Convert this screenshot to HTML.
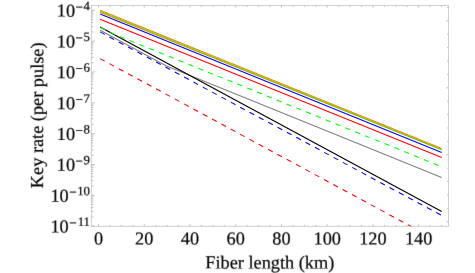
<!DOCTYPE html>
<html><head><meta charset="utf-8"><title>Key rate vs fiber length</title>
<style>html,body{margin:0;padding:0;background:#fff;}body{width:475px;height:273px;position:relative;overflow:hidden;font-family:"Liberation Serif",serif;}</style>
</head><body>
<svg width="475" height="273" viewBox="0 0 475 273" style="position:absolute;left:0;top:0">
<rect x="0" y="0" width="475" height="273" fill="#fff"/>
<defs><clipPath id="c"><rect x="91.4" y="5.5" width="357.1" height="221.54999999999998"/></clipPath><filter id="bl" x="-5%" y="-5%" width="110%" height="110%"><feConvolveMatrix order="3" kernelMatrix="0.01 0.07 0.01 0.07 0.68 0.07 0.01 0.07 0.01" divisor="1" edgeMode="none"/></filter></defs>
<g clip-path="url(#c)">
<path d="M100.1 58.6L441.7 242.96151999999998" stroke="#ff0000" stroke-width="1.05" fill="none" stroke-dasharray="5.3 5.3"/>
<path d="M100.1 31.9L441.7 215.5" stroke="#0000ff" stroke-width="1.05" fill="none" stroke-dasharray="5.3 5.3"/>
<path d="M100.1 30.3L166 65.75L441.7 177.4" stroke="#808080" stroke-width="1.05" fill="none"/>
<path d="M100.1 27.1L441.7 211.5" stroke="#000000" stroke-width="1.1" fill="none"/>
<path d="M100.1 27.1L104 29.2L116 34.95L441.7 166.7" stroke="#00ff00" stroke-width="1.05" fill="none" stroke-dasharray="5.29 5.29" stroke-dashoffset="-0.6"/>
<path d="M100.1 19.15L441.7 157.45" stroke="#ff0000" stroke-width="1.05" fill="none"/>
<path d="M100.1 14.0L441.7 152.4" stroke="#0000ff" stroke-width="1.05" fill="none"/>
<path d="M100.1 12.25L441.7 149.8" stroke="#ff8000" stroke-width="1.1" fill="none"/>
<path d="M100.1 11.25L441.7 149.6" stroke="#00ff00" stroke-width="0.9" fill="none"/>
<path d="M100.1 10.25L441.7 148.5" stroke="#ff8000" stroke-width="1.15" fill="none"/>
</g>
<rect x="91.4" y="5.5" width="357.1" height="220.85" fill="none" stroke="#d0d0d0" stroke-width="1.0"/>
<path d="M98.50 226.35v-2.1M98.50 5.5v2.1M109.94 226.35v-1.3M109.94 5.5v1.3M121.37 226.35v-1.3M121.37 5.5v1.3M132.81 226.35v-1.3M132.81 5.5v1.3M144.24 226.35v-2.1M144.24 5.5v2.1M155.68 226.35v-1.3M155.68 5.5v1.3M167.11 226.35v-1.3M167.11 5.5v1.3M178.55 226.35v-1.3M178.55 5.5v1.3M189.98 226.35v-2.1M189.98 5.5v2.1M201.41 226.35v-1.3M201.41 5.5v1.3M212.85 226.35v-1.3M212.85 5.5v1.3M224.28 226.35v-1.3M224.28 5.5v1.3M235.72 226.35v-2.1M235.72 5.5v2.1M247.16 226.35v-1.3M247.16 5.5v1.3M258.59 226.35v-1.3M258.59 5.5v1.3M270.02 226.35v-1.3M270.02 5.5v1.3M281.46 226.35v-2.1M281.46 5.5v2.1M292.89 226.35v-1.3M292.89 5.5v1.3M304.33 226.35v-1.3M304.33 5.5v1.3M315.76 226.35v-1.3M315.76 5.5v1.3M327.20 226.35v-2.1M327.20 5.5v2.1M338.63 226.35v-1.3M338.63 5.5v1.3M350.07 226.35v-1.3M350.07 5.5v1.3M361.50 226.35v-1.3M361.50 5.5v1.3M372.94 226.35v-2.1M372.94 5.5v2.1M384.38 226.35v-1.3M384.38 5.5v1.3M395.81 226.35v-1.3M395.81 5.5v1.3M407.25 226.35v-1.3M407.25 5.5v1.3M418.68 226.35v-2.1M418.68 5.5v2.1M430.12 226.35v-1.3M430.12 5.5v1.3M441.55 226.35v-1.3M441.55 5.5v1.3M91.4 226.18h3.4M91.4 216.90h2M91.4 211.47h2M91.4 207.61h2M91.4 204.62h2M91.4 202.18h2M91.4 200.12h2M91.4 198.33h2M91.4 196.75h2M91.4 195.34h3.4M91.4 186.06h2M91.4 180.63h2M91.4 176.77h2M91.4 173.78h2M91.4 171.34h2M91.4 169.28h2M91.4 167.49h2M91.4 165.91h2M91.4 164.50h3.4M91.4 155.22h2M91.4 149.79h2M91.4 145.93h2M91.4 142.94h2M91.4 140.50h2M91.4 138.44h2M91.4 136.65h2M91.4 135.07h2M91.4 133.66h3.4M91.4 124.38h2M91.4 118.95h2M91.4 115.09h2M91.4 112.10h2M91.4 109.66h2M91.4 107.60h2M91.4 105.81h2M91.4 104.23h2M91.4 102.82h3.4M91.4 93.54h2M91.4 88.11h2M91.4 84.25h2M91.4 81.26h2M91.4 78.82h2M91.4 76.76h2M91.4 74.97h2M91.4 73.39h2M91.4 71.98h3.4M91.4 62.70h2M91.4 57.27h2M91.4 53.41h2M91.4 50.42h2M91.4 47.98h2M91.4 45.92h2M91.4 44.13h2M91.4 42.55h2M91.4 41.14h3.4M91.4 31.86h2M91.4 26.43h2M91.4 22.57h2M91.4 19.58h2M91.4 17.14h2M91.4 15.08h2M91.4 13.29h2M91.4 11.71h2M91.4 10.30h3.4M448.5 221.78h-2.2M448.5 208.39h-1.4M448.5 194.99h-1.4M448.5 181.60h-1.4M448.5 168.21h-1.4M448.5 154.81h-2.2M448.5 141.42h-1.4M448.5 128.03h-1.4M448.5 114.63h-1.4M448.5 101.24h-1.4M448.5 87.84h-2.2M448.5 74.45h-1.4M448.5 61.06h-1.4M448.5 47.66h-1.4M448.5 34.27h-1.4M448.5 20.88h-2.2M448.5 7.48h-1.4" stroke="#b8b8b8" stroke-width="0.9" fill="none"/>
<g font-family="Liberation Serif, serif" fill="#000" stroke="#000" stroke-width="0.2" filter="url(#bl)" text-rendering="geometricPrecision">
<text x="98.50" y="244.5" transform="rotate(0.08 98.50 244.5)" font-size="18.3" text-anchor="middle">0</text>
<text x="144.24" y="244.5" transform="rotate(0.08 144.24 244.5)" font-size="18.3" text-anchor="middle">20</text>
<text x="189.98" y="244.5" transform="rotate(0.08 189.98 244.5)" font-size="18.3" text-anchor="middle">40</text>
<text x="235.72" y="244.5" transform="rotate(0.08 235.72 244.5)" font-size="18.3" text-anchor="middle">60</text>
<text x="281.46" y="244.5" transform="rotate(0.08 281.46 244.5)" font-size="18.3" text-anchor="middle">80</text>
<text x="327.20" y="244.5" transform="rotate(0.08 327.20 244.5)" font-size="18.3" text-anchor="middle">100</text>
<text x="372.94" y="244.5" transform="rotate(0.08 372.94 244.5)" font-size="18.3" text-anchor="middle">120</text>
<text x="418.68" y="244.5" transform="rotate(0.08 418.68 244.5)" font-size="18.3" text-anchor="middle">140</text>
<text x="68.75" y="232.53" transform="rotate(0.08 68.75 232.53)" font-size="18.3" text-anchor="end">10</text>
<text x="76.60" y="227.28" transform="rotate(0.08 76.60 227.28)" font-size="13.2" text-anchor="end">−</text>
<text x="90.0" y="226.03" transform="rotate(0.08 90 226.03)" font-size="12.8" text-anchor="end">11</text>
<text x="68.75" y="201.69" transform="rotate(0.08 68.75 201.69)" font-size="18.3" text-anchor="end">10</text>
<text x="76.60" y="196.44" transform="rotate(0.08 76.60 196.44)" font-size="13.2" text-anchor="end">−</text>
<text x="90.0" y="195.19" transform="rotate(0.08 90 195.19)" font-size="12.8" text-anchor="end">10</text>
<text x="75.15" y="170.85" transform="rotate(0.08 75.15 170.85)" font-size="18.3" text-anchor="end">10</text>
<text x="83.00" y="165.60" transform="rotate(0.08 83.00 165.60)" font-size="13.2" text-anchor="end">−</text>
<text x="90.0" y="164.35" transform="rotate(0.08 90 164.35)" font-size="12.8" text-anchor="end">9</text>
<text x="75.15" y="140.01" transform="rotate(0.08 75.15 140.01)" font-size="18.3" text-anchor="end">10</text>
<text x="83.00" y="134.76" transform="rotate(0.08 83.00 134.76)" font-size="13.2" text-anchor="end">−</text>
<text x="90.0" y="133.51" transform="rotate(0.08 90 133.51)" font-size="12.8" text-anchor="end">8</text>
<text x="75.15" y="109.17" transform="rotate(0.08 75.15 109.17)" font-size="18.3" text-anchor="end">10</text>
<text x="83.00" y="103.92" transform="rotate(0.08 83.00 103.92)" font-size="13.2" text-anchor="end">−</text>
<text x="90.0" y="102.67" transform="rotate(0.08 90 102.67)" font-size="12.8" text-anchor="end">7</text>
<text x="75.15" y="78.33" transform="rotate(0.08 75.15 78.33)" font-size="18.3" text-anchor="end">10</text>
<text x="83.00" y="73.08" transform="rotate(0.08 83.00 73.08)" font-size="13.2" text-anchor="end">−</text>
<text x="90.0" y="71.83" transform="rotate(0.08 90 71.83)" font-size="12.8" text-anchor="end">6</text>
<text x="75.15" y="47.49" transform="rotate(0.08 75.15 47.49)" font-size="18.3" text-anchor="end">10</text>
<text x="83.00" y="42.24" transform="rotate(0.08 83.00 42.24)" font-size="13.2" text-anchor="end">−</text>
<text x="90.0" y="40.99" transform="rotate(0.08 90 40.99)" font-size="12.8" text-anchor="end">5</text>
<text x="75.15" y="16.65" transform="rotate(0.08 75.15 16.65)" font-size="18.3" text-anchor="end">10</text>
<text x="83.00" y="11.40" transform="rotate(0.08 83.00 11.40)" font-size="13.2" text-anchor="end">−</text>
<text x="90.0" y="10.15" transform="rotate(0.08 90 10.15)" font-size="12.8" text-anchor="end">4</text>
<text x="269.8" y="268.45" transform="rotate(0.06 269.8 268.45)" font-size="18.3" text-anchor="middle">Fiber length (km)</text>
<text transform="translate(43.1 115.3) rotate(-89.93)" font-size="18.3" text-anchor="middle">Key rate (per pulse)</text>
</g></svg>
</body></html>
